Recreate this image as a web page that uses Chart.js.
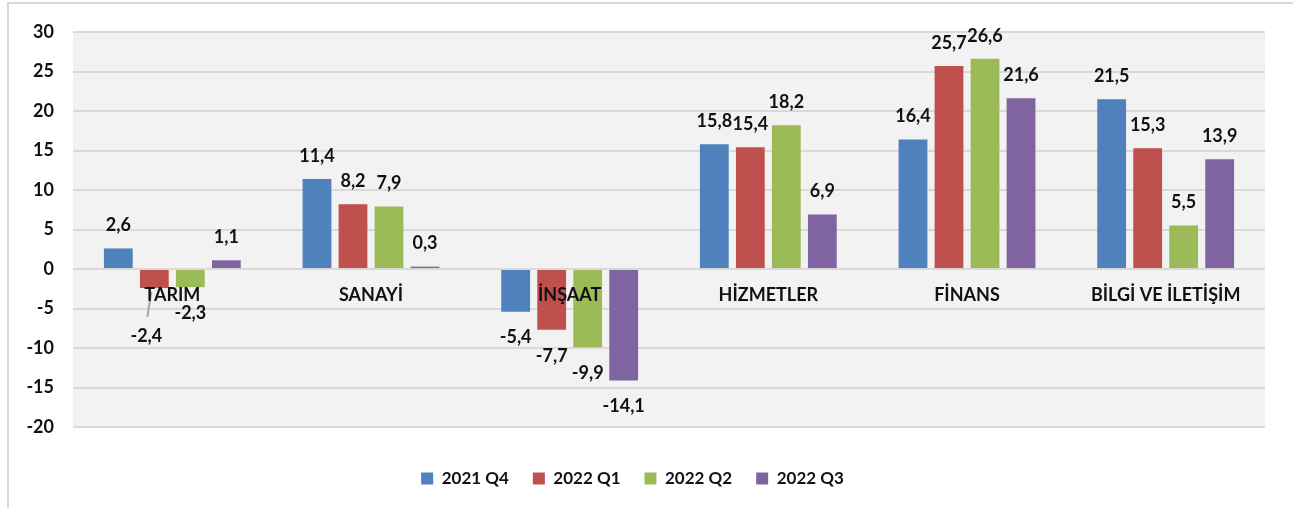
<!DOCTYPE html>
<html>
<head>
<meta charset="utf-8">
<script src="https://cdn.jsdelivr.net/npm/chart.js@4/dist/chart.umd.min.js"></script>
<style>
    html, body { margin: 0; padding: 0; background: #ffffff; }
    #wrap { position: relative; width: 1293px; height: 508px; overflow: hidden; }
    #frame { position: absolute; left: 7px; top: 2px; width: 1400px; height: 600px;
             border-top: 2px solid #d9d9d9; border-left: 2px solid #d9d9d9; }
    #chartBox { position: absolute; left: 0; top: 0; width: 1293px; height: 508px; }
</style>
</head>
<body>
<div id="wrap">
    <div id="frame"></div>
    <div id="chartBox"><canvas id="sectorChart"></canvas></div>
</div>
<script>
const categories = ['TARIM', 'SANAYİ', 'İNŞAAT', 'HİZMETLER', 'FİNANS', 'BİLGİ VE İLETİŞİM'];
const seriesNames = ['2021 Q4', '2022 Q1', '2022 Q2', '2022 Q3'];
const q4_2021 = [2.6, 11.4, -5.4, 15.8, 16.4, 21.5];
const q1_2022 = [-2.4, 8.2, -7.7, 15.4, 25.7, 15.3];
const q2_2022 = [-2.3, 7.9, -9.9, 18.2, 26.6, 5.5];
const q3_2022 = [1.1, 0.3, -14.1, 6.9, 21.6, 13.9];
const yMin = -20;
const yMax = 30;
const yStep = 5;

const seriesColors = ['#4f81bd', '#c0504d', '#9bbb59', '#8064a2'];
const fontFamily = 'Lato, "Open Sans", sans-serif';

function formatValue(v) {
    return v.toFixed(1).replace('.', ',');
}

// grey plot background, like the Excel plot area
const plotBackground = {
    id: 'plotBackground',
    beforeDraw(chart) {
        const { ctx, chartArea } = chart;
        ctx.save();
        ctx.fillStyle = '#f2f2f2';
        ctx.fillRect(chartArea.left, chartArea.top, chartArea.right - chartArea.left, chartArea.bottom - chartArea.top);
        ctx.restore();
    }
};

// value labels above / below every bar
const valueLabels = {
    id: 'valueLabels',
    afterDatasetsDraw(chart) {
        const ctx = chart.ctx;
        ctx.save();
        ctx.font = 'bold 18px ' + fontFamily;
        ctx.fillStyle = '#111111';
        ctx.textAlign = 'center';
        ctx.textBaseline = 'middle';
        chart.data.datasets.forEach((dataset, i) => {
            const meta = chart.getDatasetMeta(i);
            meta.data.forEach((bar, index) => {
                const value = dataset.data[index];
                let x = bar.x;
                let y = value >= 0 ? bar.y - 23 : bar.y + 26;
                // TARIM 2022 Q1 label was pulled down with a leader line
                if (i === 1 && index === 0) {
                    x = bar.x - 8;
                    y = bar.y + 48;
                    ctx.strokeStyle = '#a6a6a6';
                    ctx.lineWidth = 2;
                    ctx.beginPath();
                    ctx.moveTo(bar.x - 3, bar.y + 4);
                    ctx.lineTo(bar.x - 7, bar.y + 29);
                    ctx.stroke();
                }
                ctx.fillText(formatValue(value), x, y);
            });
        });
        ctx.restore();
    }
};

const ctx = document.getElementById('sectorChart').getContext('2d');
const sectorChart = new Chart(ctx, {
    type: 'bar',
    data: {
        labels: categories,
        datasets: [
            { label: seriesNames[0], data: q4_2021, backgroundColor: seriesColors[0] },
            { label: seriesNames[1], data: q1_2022, backgroundColor: seriesColors[1] },
            { label: seriesNames[2], data: q2_2022, backgroundColor: seriesColors[2] },
            { label: seriesNames[3], data: q3_2022, backgroundColor: seriesColors[3] }
        ]
    },
    options: {
        responsive: true,
        maintainAspectRatio: false,
        animation: false,
        categoryPercentage: 0.725,
        barPercentage: 0.8,
        layout: {
            padding: { left: 0, top: 32, right: 28, bottom: 11 }
        },
        scales: {
            x: {
                position: { y: 0 },
                grid: { display: false, drawTicks: false },
                border: { display: false },
                ticks: {
                    z: 1,
                    padding: 15,
                    color: '#111111',
                    font: { family: fontFamily, size: 18, weight: 'bold' },
                    maxRotation: 0,
                    autoSkip: false
                }
            },
            gap: {
                axis: 'x',
                type: 'category',
                position: 'bottom',
                grid: { display: false, drawTicks: false },
                border: { display: false },
                ticks: { display: false },
                afterFit: (scale) => { scale.height = 19; }
            },
            y: {
                min: yMin,
                max: yMax,
                grid: { color: '#d9d9d9', lineWidth: 2, drawTicks: false },
                border: { display: false },
                ticks: {
                    stepSize: yStep,
                    padding: 19,
                    color: '#111111',
                    font: { family: fontFamily, size: 18, weight: 'bold' }
                },
                afterFit: (scale) => { scale.width = 73; }
            }
        },
        plugins: {
            legend: {
                display: true,
                position: 'bottom',
                labels: {
                    boxWidth: 12,
                    boxHeight: 12,
                    padding: 24,
                    color: '#111111',
                    font: { family: fontFamily, size: 17, weight: 'bold' }
                }
            },
            tooltip: { enabled: false }
        }
    },
    plugins: [plotBackground, valueLabels]
});
</script>
</body>
</html>
